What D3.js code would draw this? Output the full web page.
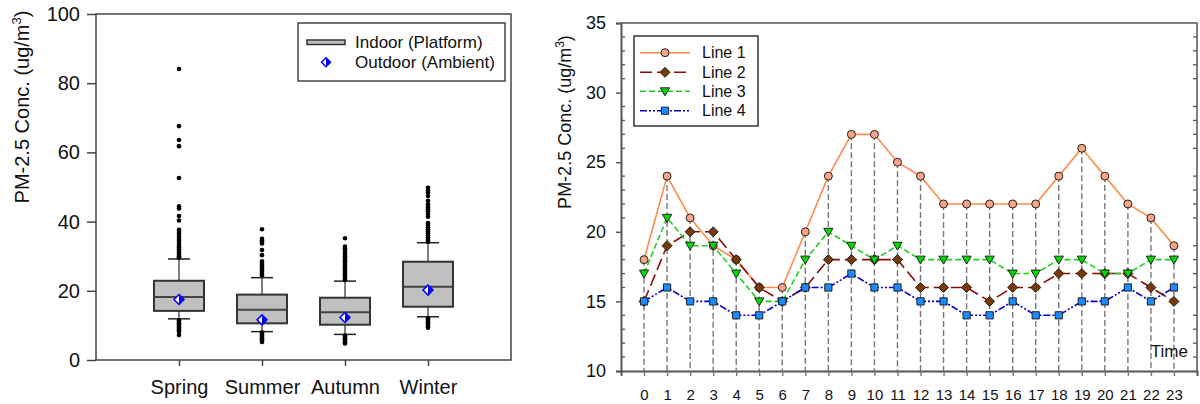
<!DOCTYPE html>
<html>
<head>
<meta charset="utf-8">
<script src="https://cdn.jsdelivr.net/npm/d3@7"></script>
<style>
  html, body { margin: 0; padding: 0; background: #fff; }
  svg { display: block; font-family: "Liberation Sans", Arial, sans-serif; }
</style>
</head>
<body>
<svg id="chart" width="1200" height="404"></svg>
<script>
// ---------- Seasonal box plot data (PM-2.5, ug/m3) ----------
const seasons      = ["Spring", "Summer", "Autumn", "Winter"];
const whiskerLow   = [11.9, 8.2, 7.4, 12.5];
const q1           = [14.2, 10.6, 10.2, 15.4];
const medians      = [18.2, 14.5, 13.8, 21.2];
const q3           = [22.9, 18.9, 18.0, 28.4];
const whiskerHigh  = [29.2, 23.8, 22.8, 33.9];
const outdoorMeans = [17.5, 11.6, 12.3, 20.2];

const springOutliers = [84.1, 67.6, 63.6, 61.8, 52.6, 44.4, 43.8, 41.6, 40.3, 37.6, 37.0, 36.4, 35.6, 35.0,
                        34.4, 33.6, 33.0, 32.5, 32.0, 31.5, 31.0, 30.5, 30.0, 29.6,
                        11.5, 11.0, 10.6, 10.2, 9.8, 9.4, 9.0, 8.6, 8.2, 7.2];
const summerOutliers = [37.8, 35.0, 34.6, 34.1, 33.7, 31.8, 30.3, 28.5, 28.0, 27.5, 27.0, 26.5, 26.0, 25.5,
                        25.0, 24.5, 7.9, 7.5, 7.1, 6.7, 6.3, 5.9, 5.5, 5.2];
const autumnOutliers = [35.2, 32.8, 32.3, 31.8, 31.2, 30.6, 30.0, 29.5, 29.0, 28.5, 28.0, 27.5, 27.0, 26.5,
                        26.0, 25.5, 25.0, 24.5, 24.0, 23.5, 23.1, 7.1, 6.7, 6.3, 5.9, 5.5, 5.1, 4.8];
const winterOutliers = [49.8, 49.0, 48.4, 47.4, 46.0, 45.0, 44.2, 43.6, 43.0, 42.2, 41.4, 39.6, 39.0, 38.4,
                        37.8, 37.2, 36.6, 36.0, 35.5, 35.0, 34.5, 34.1,
                        12.1, 11.7, 11.3, 10.9, 10.5, 10.1, 9.6, 9.3];
const outliers = [springOutliers, summerOutliers, autumnOutliers, winterOutliers];
const leftTicks = [0, 20, 40, 60, 80, 100];

// ---------- Hourly line data (PM-2.5, ug/m3) ----------
const hours = [0, 1, 2, 3, 4, 5, 6, 7, 8, 9, 10, 11, 12, 13, 14, 15, 16, 17, 18, 19, 20, 21, 22, 23];
const line1 = [18, 24, 21, 19, 18, 16, 16, 20, 24, 27, 27, 25, 24, 22, 22, 22, 22, 22, 24, 26, 24, 22, 21, 19];
const line2 = [15, 19, 20, 20, 18, 16, 15, 16, 18, 18, 18, 18, 16, 16, 16, 15, 16, 16, 17, 17, 17, 17, 16, 15];
const line3 = [17, 21, 19, 19, 17, 15, 15, 18, 20, 19, 18, 19, 18, 18, 18, 18, 17, 17, 18, 18, 17, 17, 18, 18];
const line4 = [15, 16, 15, 15, 14, 14, 15, 16, 16, 17, 16, 16, 15, 15, 14, 14, 15, 14, 14, 15, 15, 16, 15, 16];
const lineNames = ["Line 1", "Line 2", "Line 3", "Line 4"];
const rightTicks = [10, 15, 20, 25, 30, 35];

const svg = d3.select("#chart");

// =============== Left panel: seasonal box plot ===============
const L = { left: 96, right: 511, top: 14, bottom: 360 };
const yL = d3.scaleLinear().domain([0, 100]).range([L.bottom, L.top]);
const xL = d3.scalePoint().domain(seasons).range([L.left, L.right]).padding(1);
const frameColor = "#444";

const gL = svg.append("g");

// frame
gL.append("rect")
  .attr("x", L.left).attr("y", L.top)
  .attr("width", L.right - L.left).attr("height", L.bottom - L.top)
  .attr("fill", "none").attr("stroke", frameColor).attr("stroke-width", 1.5);

// y axis
const yAxisL = gL.append("g")
  .attr("transform", `translate(${L.left},0)`)
  .call(d3.axisLeft(yL).tickValues(leftTicks).tickSize(9).tickPadding(7));
yAxisL.select(".domain").remove();
yAxisL.selectAll("line").attr("stroke", frameColor).attr("stroke-width", 1.5);
yAxisL.selectAll("text").attr("font-size", 20).attr("fill", "#111")
  .style("font-family", "'Liberation Sans', Arial, sans-serif");

// x axis
const xAxisL = gL.append("g")
  .attr("transform", `translate(0,${L.bottom})`)
  .call(d3.axisBottom(xL).tickSize(6));
xAxisL.select(".domain").remove();
xAxisL.selectAll("line").attr("stroke", frameColor).attr("stroke-width", 1.5);
xAxisL.selectAll("text").attr("font-size", 20).attr("fill", "#111")
  .attr("y", 34).attr("dy", 0)
  .style("font-family", "'Liberation Sans', Arial, sans-serif");

// y axis title
const titleL = gL.append("text")
  .attr("transform", "translate(22,107) rotate(-90)")
  .attr("text-anchor", "middle").attr("dy", "0.35em")
  .attr("font-size", 20).attr("fill", "#111");
titleL.append("tspan").text("PM-2.5 Conc. (ug/m");
titleL.append("tspan").attr("font-size", 13).attr("dy", -8).text("3");
titleL.append("tspan").attr("dy", 8).text(")");

// boxes
const boxW = 50, capW = 22;
seasons.forEach((s, i) => {
  const cx = xL(s);
  const g = gL.append("g");
  // whiskers
  g.append("line").attr("x1", cx).attr("x2", cx)
    .attr("y1", yL(whiskerHigh[i])).attr("y2", yL(q3[i]))
    .attr("stroke", "#555").attr("stroke-width", 1.5);
  g.append("line").attr("x1", cx).attr("x2", cx)
    .attr("y1", yL(q1[i])).attr("y2", yL(whiskerLow[i]))
    .attr("stroke", "#555").attr("stroke-width", 1.5);
  [whiskerHigh[i], whiskerLow[i]].forEach(v => {
    g.append("line").attr("x1", cx - capW / 2).attr("x2", cx + capW / 2)
      .attr("y1", yL(v)).attr("y2", yL(v))
      .attr("stroke", "#222").attr("stroke-width", 1.5);
  });
  // box
  g.append("rect")
    .attr("x", cx - boxW / 2).attr("y", yL(q3[i]))
    .attr("width", boxW).attr("height", yL(q1[i]) - yL(q3[i]))
    .attr("fill", "#c0c0c0").attr("stroke", "#333").attr("stroke-width", 2);
  g.append("line").attr("x1", cx - boxW / 2).attr("x2", cx + boxW / 2)
    .attr("y1", yL(medians[i])).attr("y2", yL(medians[i]))
    .attr("stroke", "#444").attr("stroke-width", 2);
  // outliers
  g.selectAll("circle.out").data(outliers[i]).join("circle")
    .attr("class", "out")
    .attr("cx", cx).attr("cy", d => yL(d)).attr("r", 2.3)
    .attr("fill", "#000");
});

// half-filled diamond marker for outdoor means
function halfDiamond(g, x, y, r) {
  g.append("path")
    .attr("d", `M${x},${y - r}L${x + r},${y}L${x},${y + r}L${x - r},${y}Z`)
    .attr("fill", "#fff").attr("stroke", "#0000ff").attr("stroke-width", 1.5);
  g.append("path")
    .attr("d", `M${x},${y - r}L${x + r},${y}L${x},${y + r}Z`)
    .attr("fill", "#0000ff");
}
seasons.forEach((s, i) => halfDiamond(gL, xL(s), yL(outdoorMeans[i]), 5));

// legend
const legL = gL.append("g");
legL.append("rect").attr("x", 298).attr("y", 23).attr("width", 207).attr("height", 58)
  .attr("fill", "#fff").attr("stroke", frameColor).attr("stroke-width", 1.5);
legL.append("rect").attr("x", 307).attr("y", 40).attr("width", 38).attr("height", 4.5)
  .attr("fill", "#c0c0c0").attr("stroke", "#333").attr("stroke-width", 1.5);
halfDiamond(legL, 326, 62.3, 4.5);
legL.append("text").attr("x", 355).attr("y", 42.5).attr("dy", "0.35em")
  .attr("font-size", 17).attr("fill", "#111").text("Indoor (Platform)");
legL.append("text").attr("x", 355).attr("y", 62.3).attr("dy", "0.35em")
  .attr("font-size", 17).attr("fill", "#111").text("Outdoor (Ambient)");

// =============== Right panel: hourly lines ===============
const R = { left: 621, right: 1197, top: 23, bottom: 371 };
const xR = d3.scaleLinear().domain([-1, 24]).range([R.left, R.right]);
const yR = d3.scaleLinear().domain([10, 35]).range([R.bottom, R.top]);
const axisColor = "#555";

const gR = svg.append("g");

// drop lines from the highest value at each hour
const series = [line1, line2, line3, line4];
const hourMax = hours.map((h, i) => d3.max(series, s => s[i]));
gR.append("g").selectAll("line").data(hours).join("line")
  .attr("x1", d => xR(d)).attr("x2", d => xR(d))
  .attr("y1", (d, i) => yR(hourMax[i])).attr("y2", R.bottom)
  .attr("stroke", "#777").attr("stroke-width", 1.4).attr("stroke-dasharray", "6,3");

// frame (top + right)
gR.append("path")
  .attr("d", `M${R.left},${R.top}H${R.right}V${R.bottom}`)
  .attr("fill", "none").attr("stroke", axisColor).attr("stroke-width", 1.5);

// minor integer ticks (inside, both sides)
const minor = yR.ticks(25).filter(v => v % 5 !== 0);
gR.append("g").selectAll("line").data(minor).join("line")
  .attr("x1", R.left).attr("x2", R.left + 4)
  .attr("y1", d => yR(d)).attr("y2", d => yR(d))
  .attr("stroke", axisColor).attr("stroke-width", 1.3);
gR.append("g").selectAll("line").data(minor).join("line")
  .attr("x1", R.right - 4).attr("x2", R.right)
  .attr("y1", d => yR(d)).attr("y2", d => yR(d))
  .attr("stroke", axisColor).attr("stroke-width", 1.3);

// y axis
const yAxisR = gR.append("g")
  .attr("transform", `translate(${R.left},0)`)
  .call(d3.axisLeft(yR).tickValues(rightTicks).tickSize(5).tickPadding(10));
yAxisR.select(".domain").attr("stroke", axisColor).attr("stroke-width", 2);
yAxisR.selectAll("line").attr("stroke", axisColor).attr("stroke-width", 1.5);
yAxisR.selectAll("text").attr("font-size", 18).attr("fill", "#111")
  .style("font-family", "'Liberation Sans', Arial, sans-serif");

// x axis
const xAxisR = gR.append("g")
  .attr("transform", `translate(0,${R.bottom})`)
  .call(d3.axisBottom(xR).tickValues(hours).tickSize(5).tickFormat(d3.format("d")));
xAxisR.select(".domain").attr("stroke", axisColor).attr("stroke-width", 2);
xAxisR.selectAll("line").attr("stroke", "#777").attr("stroke-width", 1.4);
xAxisR.selectAll("text").attr("font-size", 15).attr("fill", "#111")
  .attr("y", 29).attr("dy", 0)
  .style("font-family", "'Liberation Sans', Arial, sans-serif");

// axis title
const titleR = gR.append("text")
  .attr("transform", "translate(565,122) rotate(-90)")
  .attr("text-anchor", "middle").attr("dy", "0.35em")
  .attr("font-size", 18).attr("fill", "#111");
titleR.append("tspan").text("PM-2.5 Conc. (ug/m");
titleR.append("tspan").attr("font-size", 12).attr("dy", -7).text("3");
titleR.append("tspan").attr("dy", 7).text(")");

gR.append("text").attr("x", 1188).attr("y", 357).attr("text-anchor", "end")
  .attr("font-size", 17).attr("fill", "#111").text("Time");

// series styles
const styles = [
  { stroke: "#ff8a4c", dash: null,            fill: "#f9a486", shape: "circle" },
  { stroke: "#8b0a0a", dash: "12,5",          fill: "#7a3a08", shape: "diamond" },
  { stroke: "#22cc22", dash: "6,3",           fill: "#00dd00", shape: "triangle" },
  { stroke: "#0000cc", dash: "7,2,2,2,2,2",   fill: "#1a8cff", shape: "square" }
];

function marker(g, shape, x, y, fill) {
  let p;
  if (shape === "circle") {
    return g.append("circle").attr("cx", x).attr("cy", y).attr("r", 4)
      .attr("fill", fill).attr("stroke", "#222").attr("stroke-width", 1);
  } else if (shape === "diamond") {
    p = `M${x},${y - 5}L${x + 5},${y}L${x},${y + 5}L${x - 5},${y}Z`;
  } else if (shape === "triangle") {
    p = `M${x - 4.6},${y - 3.5}L${x + 4.6},${y - 3.5}L${x},${y + 4.5}Z`;
  } else {
    p = `M${x - 3.6},${y - 3.6}h7.2v7.2h-7.2Z`;
  }
  return g.append("path").attr("d", p)
    .attr("fill", fill).attr("stroke", "#222").attr("stroke-width", 1);
}

const lineGen = d3.line().x((d, i) => xR(hours[i])).y(d => yR(d));
series.forEach((s, k) => {
  gR.append("path").datum(s).attr("d", lineGen)
    .attr("fill", "none").attr("stroke", styles[k].stroke).attr("stroke-width", 1.6)
    .attr("stroke-dasharray", styles[k].dash);
});
series.forEach((s, k) => {
  const g = gR.append("g");
  s.forEach((v, i) => marker(g, styles[k].shape, xR(hours[i]), yR(v), styles[k].fill));
});

// legend
const legR = gR.append("g");
legR.append("rect").attr("x", 634).attr("y", 36).attr("width", 124).attr("height", 90)
  .attr("fill", "#fff").attr("stroke", "#333").attr("stroke-width", 1.5);
const legRows = [52.7, 72.3, 91.3, 110.7];
lineNames.forEach((name, k) => {
  const y = legRows[k];
  legR.append("line").attr("x1", 640).attr("x2", 690).attr("y1", y).attr("y2", y)
    .attr("stroke", styles[k].stroke).attr("stroke-width", 1.6)
    .attr("stroke-dasharray", styles[k].dash);
  marker(legR, styles[k].shape, 665, y, styles[k].fill);
  legR.append("text").attr("x", 702).attr("y", y).attr("dy", "0.35em")
    .attr("font-size", 16).attr("fill", "#111").text(name);
});
</script>
</body>
</html>
